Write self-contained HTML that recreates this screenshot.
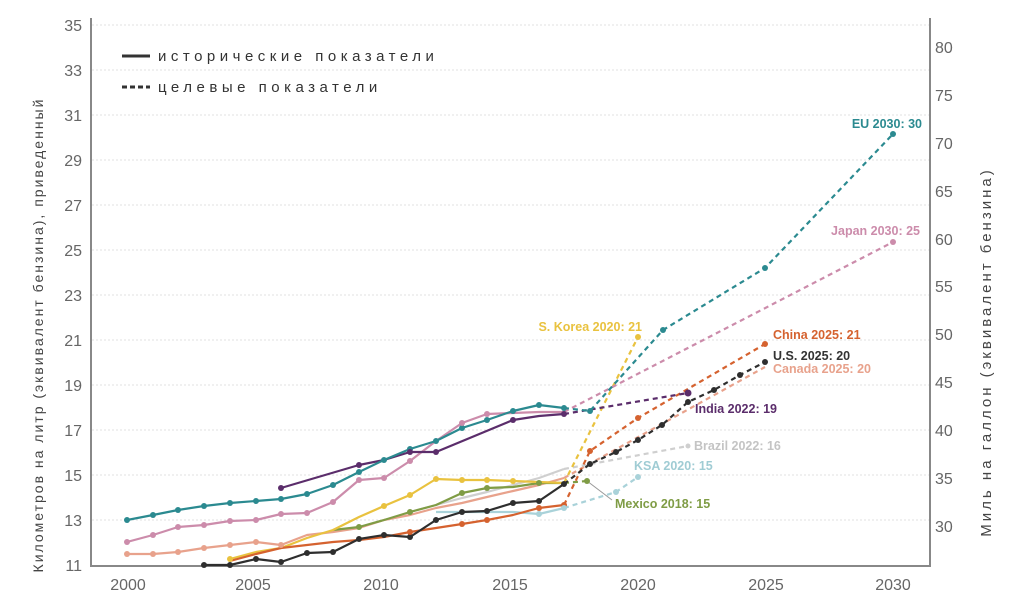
<!DOCTYPE html>
<html><head><meta charset="utf-8"><style>
html,body{margin:0;padding:0;background:#fff;}
svg{display:block;font-family:"Liberation Sans","DejaVu Sans",sans-serif;}
</style></head><body>
<svg width="1024" height="613" viewBox="0 0 1024 613" xmlns="http://www.w3.org/2000/svg">
<rect width="1024" height="613" fill="#fff"/>
<g stroke="#e2e2e2" stroke-width="1" stroke-dasharray="2,2">
<line x1="92" y1="25" x2="930" y2="25"/><line x1="92" y1="70" x2="930" y2="70"/><line x1="92" y1="115" x2="930" y2="115"/><line x1="92" y1="160" x2="930" y2="160"/><line x1="92" y1="205" x2="930" y2="205"/><line x1="92" y1="250" x2="930" y2="250"/><line x1="92" y1="295" x2="930" y2="295"/><line x1="92" y1="340" x2="930" y2="340"/><line x1="92" y1="385" x2="930" y2="385"/><line x1="92" y1="430" x2="930" y2="430"/><line x1="92" y1="475" x2="930" y2="475"/><line x1="92" y1="520" x2="930" y2="520"/>
</g>
<g stroke="#888" stroke-width="2" fill="none">
<line x1="91" y1="18" x2="91" y2="566"/><line x1="90" y1="566" x2="931" y2="566"/><line x1="930" y1="18" x2="930" y2="566"/>
</g>
<g fill="#666" font-size="16" text-anchor="end">
<text x="82" y="31">35</text><text x="82" y="76">33</text><text x="82" y="121">31</text><text x="82" y="166">29</text><text x="82" y="211">27</text><text x="82" y="256">25</text><text x="82" y="301">23</text><text x="82" y="346">21</text><text x="82" y="391">19</text><text x="82" y="436">17</text><text x="82" y="481">15</text><text x="82" y="526">13</text><text x="82" y="571">11</text>
</g>
<g fill="#666" font-size="16" text-anchor="start">
<text x="935" y="53">80</text><text x="935" y="101">75</text><text x="935" y="149">70</text><text x="935" y="197">65</text><text x="935" y="245">60</text><text x="935" y="292">55</text><text x="935" y="340">50</text><text x="935" y="388">45</text><text x="935" y="436">40</text><text x="935" y="484">35</text><text x="935" y="532">30</text>
</g>
<g fill="#666" font-size="16" text-anchor="middle">
<text x="128" y="590">2000</text><text x="253" y="590">2005</text><text x="381" y="590">2010</text><text x="510" y="590">2015</text><text x="638" y="590">2020</text><text x="766" y="590">2025</text><text x="893" y="590">2030</text>
</g>
<text transform="translate(43,335) rotate(-90)" font-size="14" fill="#444" text-anchor="middle" letter-spacing="2">Километров на литр (эквивалент бензина), приведенный</text>
<text transform="translate(991,352) rotate(-90)" font-size="15" fill="#444" text-anchor="middle" letter-spacing="3">Миль на галлон (эквивалент бензина)</text>
<line x1="122" y1="56" x2="150" y2="56" stroke="#333" stroke-width="3"/>
<text x="158" y="61" font-size="15" fill="#333" letter-spacing="4.5">исторические показатели</text>
<line x1="122" y1="87" x2="150" y2="87" stroke="#333" stroke-width="3" stroke-dasharray="5,3"/>
<text x="158" y="92" font-size="15" fill="#333" letter-spacing="4.5">целевые показатели</text>

<g fill="none" stroke-width="2.2" stroke-linejoin="round">
<polyline stroke="#e8a28c" points="127,554 153,554 178,552 204,548 230,545 256,542 281,545 307,535 333,532 359,528 384,520 410,515 436,508 462,503 487,497 513,491 539,485 564,478"/>
<polyline stroke="#e8a28c" stroke-dasharray="5,4" points="564,478 765,367"/>
<polyline stroke="#cfcfcf" points="410,512 436,505 462,498 487,492 513,485 539,478 564,469"/>
<polyline stroke="#cfcfcf" stroke-dasharray="5,4" points="564,469 688,446"/>
<polyline stroke="#a9d2d9" points="436,512 462,512 487,512 513,512 539,514 564,508"/>
<polyline stroke="#a9d2d9" stroke-dasharray="5,4" points="564,508 616,492 638,477"/>
<polyline stroke="#7f9c45" points="333,530 359,527 384,520 410,512 436,505 462,493 487,488 513,487 539,483 564,483"/>
<polyline stroke="#7f9c45" stroke-dasharray="5,4" points="564,483 587,481"/>
<line x1="587" y1="481" x2="612" y2="500" stroke="#999" stroke-width="1"/>
<polyline stroke="#e9c23f" points="230,559 256,552 281,548 307,538 333,530 359,517 384,506 410,495 436,479 462,480 487,480 513,481 539,482 564,483"/>
<polyline stroke="#e9c23f" stroke-dasharray="5,4" points="564,483 638,337"/>
<polyline stroke="#d5622f" points="230,561 256,554 281,548 307,545 333,542 359,540 384,537 410,532 436,528 462,524 487,520 513,515 539,508 564,505"/>
<polyline stroke="#d5622f" stroke-dasharray="5,4" points="564,505 590,451 638,418 765,344"/>
<polyline stroke="#2e2e2e" points="204,565 230,565 256,559 281,562 307,553 333,552 359,539 384,535 410,537 436,520 462,512 487,511 513,503 539,501 564,484"/>
<polyline stroke="#2e2e2e" stroke-dasharray="5,4" points="564,484 590,464 616,452 638,440 662,425 688,402 714,390 740,375 765,362"/>
<polyline stroke="#cc8cab" points="127,542 153,535 178,527 204,525 230,521 256,520 281,514 307,513 333,502 359,480 384,478 410,461 436,441 462,423 487,414 513,413 539,412 564,412"/>
<polyline stroke="#cc8cab" stroke-dasharray="5,4" points="564,412 893,242"/>
<polyline stroke="#5b2d6b" points="281,488 359,465 384,460 410,452 436,452 513,420 539,416 564,414"/>
<polyline stroke="#5b2d6b" stroke-dasharray="5,4" points="564,414 688,393"/>
<polyline stroke="#2b8a90" points="127,520 153,515 178,510 204,506 230,503 256,501 281,499 307,494 333,485 359,472 384,460 410,449 436,441 462,428 487,420 513,411 539,405 564,408"/>
<polyline stroke="#2b8a90" stroke-dasharray="5,4" points="564,408 590,411 663,330 765,268 893,134"/>
</g>
<g>
<g fill="#2b8a90"><circle cx="127" cy="520" r="3"/><circle cx="153" cy="515" r="3"/><circle cx="178" cy="510" r="3"/><circle cx="204" cy="506" r="3"/><circle cx="230" cy="503" r="3"/><circle cx="256" cy="501" r="3"/><circle cx="281" cy="499" r="3"/><circle cx="307" cy="494" r="3"/><circle cx="333" cy="485" r="3"/><circle cx="359" cy="472" r="3"/><circle cx="384" cy="460" r="3"/><circle cx="410" cy="449" r="3"/><circle cx="436" cy="441" r="3"/><circle cx="462" cy="428" r="3"/><circle cx="487" cy="420" r="3"/><circle cx="513" cy="411" r="3"/><circle cx="539" cy="405" r="3"/><circle cx="564" cy="408" r="3"/><circle cx="590" cy="411" r="3"/><circle cx="663" cy="330" r="3"/><circle cx="765" cy="268" r="3"/><circle cx="893" cy="134" r="3"/></g>
<g fill="#cc8cab"><circle cx="127" cy="542" r="3"/><circle cx="153" cy="535" r="3"/><circle cx="178" cy="527" r="3"/><circle cx="204" cy="525" r="3"/><circle cx="230" cy="521" r="3"/><circle cx="256" cy="520" r="3"/><circle cx="281" cy="514" r="3"/><circle cx="307" cy="513" r="3"/><circle cx="333" cy="502" r="3"/><circle cx="359" cy="480" r="3"/><circle cx="384" cy="478" r="3"/><circle cx="410" cy="461" r="3"/><circle cx="462" cy="423" r="3"/><circle cx="487" cy="414" r="3"/><circle cx="893" cy="242" r="3"/></g>
<g fill="#e8a28c"><circle cx="127" cy="554" r="3"/><circle cx="153" cy="554" r="3"/><circle cx="178" cy="552" r="3"/><circle cx="204" cy="548" r="3"/><circle cx="230" cy="545" r="3"/><circle cx="256" cy="542" r="3"/><circle cx="281" cy="545" r="3"/></g>
<g fill="#5b2d6b"><circle cx="281" cy="488" r="3"/><circle cx="359" cy="465" r="3"/><circle cx="410" cy="452" r="3"/><circle cx="436" cy="452" r="3"/><circle cx="513" cy="420" r="3"/><circle cx="564" cy="414" r="3"/><circle cx="688" cy="393" r="3.5"/></g>
<g fill="#2e2e2e"><circle cx="204" cy="565" r="3"/><circle cx="230" cy="565" r="3"/><circle cx="256" cy="559" r="3"/><circle cx="281" cy="562" r="3"/><circle cx="307" cy="553" r="3"/><circle cx="333" cy="552" r="3"/><circle cx="359" cy="539" r="3"/><circle cx="384" cy="535" r="3"/><circle cx="410" cy="537" r="3"/><circle cx="436" cy="520" r="3"/><circle cx="462" cy="512" r="3"/><circle cx="487" cy="511" r="3"/><circle cx="513" cy="503" r="3"/><circle cx="539" cy="501" r="3"/><circle cx="564" cy="484" r="3"/><circle cx="590" cy="464" r="3"/><circle cx="616" cy="452" r="3"/><circle cx="638" cy="440" r="3"/><circle cx="662" cy="425" r="3"/><circle cx="688" cy="402" r="3"/><circle cx="714" cy="390" r="3"/><circle cx="740" cy="375" r="3"/><circle cx="765" cy="362" r="3"/></g>
<g fill="#d5622f"><circle cx="410" cy="532" r="3"/><circle cx="462" cy="524" r="3"/><circle cx="487" cy="520" r="3"/><circle cx="539" cy="508" r="3"/><circle cx="564" cy="505" r="3"/><circle cx="590" cy="451" r="3"/><circle cx="638" cy="418" r="3"/><circle cx="765" cy="344" r="3"/></g>
<g fill="#e9c23f"><circle cx="230" cy="559" r="3"/><circle cx="384" cy="506" r="3"/><circle cx="410" cy="495" r="3"/><circle cx="436" cy="479" r="3"/><circle cx="462" cy="480" r="3"/><circle cx="487" cy="480" r="3"/><circle cx="513" cy="481" r="3"/><circle cx="638" cy="337" r="3"/></g>
<g fill="#7f9c45"><circle cx="359" cy="527" r="3"/><circle cx="410" cy="512" r="3"/><circle cx="462" cy="493" r="3"/><circle cx="487" cy="488" r="3"/><circle cx="539" cy="483" r="3"/><circle cx="587" cy="481" r="3"/></g>
<g fill="#a9d2d9"><circle cx="539" cy="514" r="3"/><circle cx="564" cy="508" r="3"/><circle cx="616" cy="492" r="3"/><circle cx="638" cy="477" r="3"/></g>
<circle cx="688" cy="446" r="2.5" fill="#cfcfcf"/>
</g>
<g font-size="12.5" font-weight="bold">
<text x="922" y="128" fill="#2b8a90" text-anchor="end">EU 2030: 30</text>
<text x="920" y="235" fill="#cc8cab" text-anchor="end">Japan 2030: 25</text>
<text x="773" y="339" fill="#d5622f">China 2025: 21</text>
<text x="773" y="360" fill="#333">U.S. 2025: 20</text>
<text x="773" y="373" fill="#e8a28c">Canada 2025: 20</text>
<text x="695" y="413" fill="#5b2d6b">India 2022: 19</text>
<text x="694" y="450" fill="#c4c4c4">Brazil 2022: 16</text>
<text x="634" y="470" fill="#a0ccd4">KSA 2020: 15</text>
<text x="615" y="508" fill="#7f9c45">Mexico 2018: 15</text>
<text x="642" y="331" fill="#e9c23f" text-anchor="end">S. Korea 2020: 21</text>
</g>
</svg>
</body></html>
